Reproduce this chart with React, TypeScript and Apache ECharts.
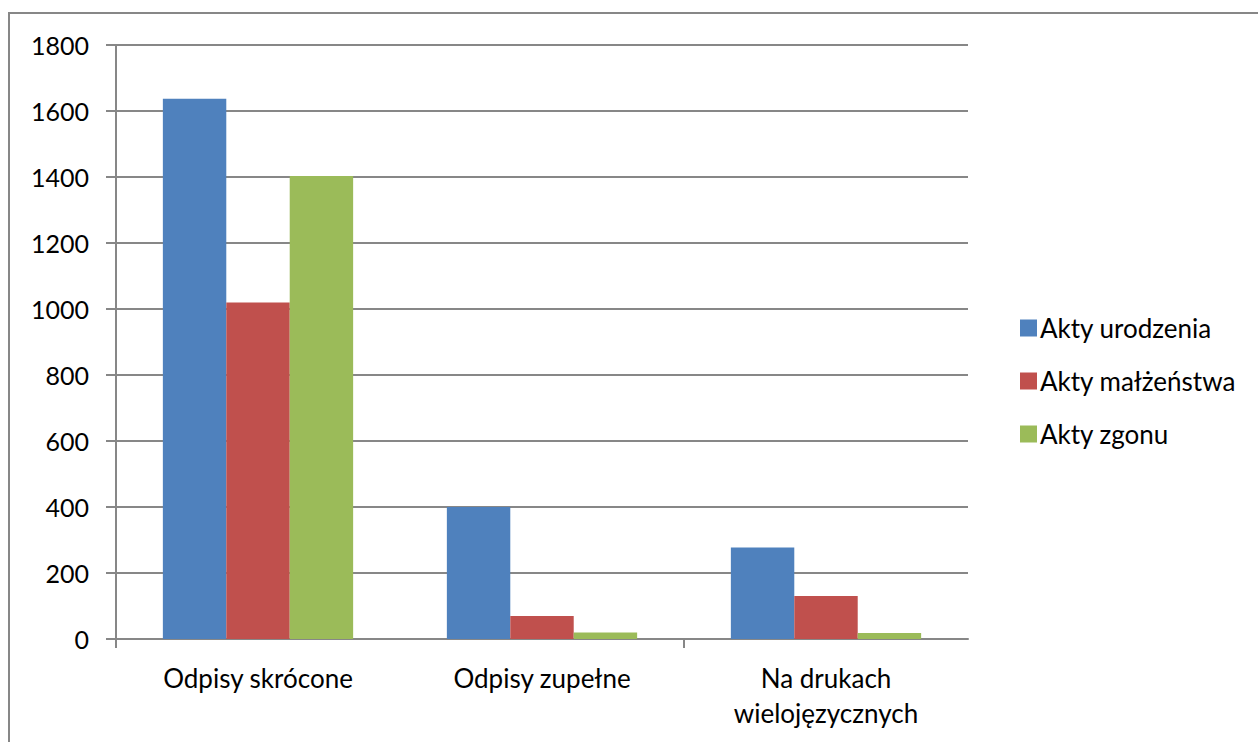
import React, { useEffect, useRef } from "react";
import * as echarts from "echarts";

const categories = ["Odpisy skrócone", "Odpisy zupełne", "Na drukach\nwielojęzycznych"];
const seriesNames = ["Akty urodzenia", "Akty małżeństwa", "Akty zgonu"];
const urodzenia = [1637, 400, 277];
const malzenstwa = [1020, 70, 130];
const zgonu = [1403, 20, 18];
const colors = ["#4F81BD", "#C0504D", "#9BBB59"];
const yTicks = { min: 0, max: 1800, interval: 200 };
const xTickPositions = [0, 2];

export default function App() {
  const ref = useRef<HTMLDivElement>(null);
  useEffect(() => {
    document.body.style.margin = "0";
    const chart = echarts.init(ref.current!, null, { renderer: "svg" });
    const font = "Lato, 'Open Sans', sans-serif";
    const gray = "#878787";
    const values = [urodzenia, malzenstwa, zgonu];
    chart.setOption({
      animation: false,
      backgroundColor: "#ffffff",
      textStyle: { fontFamily: font },
      graphic: [
        {
          type: "rect",
          shape: { x: 9, y: 13, width: 1260, height: 740 },
          style: { fill: "none", stroke: gray, lineWidth: 2 },
          silent: true,
        },
      ],
      grid: { left: 116, right: 290, top: 45, bottom: 103, containLabel: false },
      legend: {
        orient: "vertical",
        left: 1015,
        top: 310,
        itemWidth: 17,
        itemHeight: 17,
        itemGap: 27,
        icon: "rect",
        textStyle: { fontSize: 26, color: "#000", fontFamily: font, padding: [0, 0, 0, -2] },
        data: seriesNames,
      },
      xAxis: [
        {
          type: "category",
          data: categories,
          axisLine: { lineStyle: { color: gray, width: 2 } },
          axisTick: { show: false },
          axisLabel: {
            fontSize: 26,
            color: "#000",
            fontFamily: font,
            margin: 21,
            lineHeight: 35,
            interval: 0,
          },
        },
        {
          type: "value",
          position: "bottom",
          min: 0,
          max: 3,
          axisLine: { show: false },
          axisLabel: { show: false },
          splitLine: { show: false },
          axisTick: {
            show: true,
            length: 9,
            lineStyle: { color: gray, width: 2 },
            customValues: xTickPositions,
          },
        },
      ],
      yAxis: {
        type: "value",
        min: yTicks.min,
        max: yTicks.max,
        interval: yTicks.interval,
        axisLine: { show: true, lineStyle: { color: gray, width: 2 } },
        axisTick: { show: true, length: 10, lineStyle: { color: gray, width: 2 } },
        splitLine: { show: true, lineStyle: { color: gray, width: 2 } },
        axisLabel: {
          fontSize: 25,
          color: "#000",
          fontFamily: font,
          margin: 27,
          formatter: (v: number) => String(v),
        },
      },
      series: seriesNames.map((name, i) => ({
        name,
        type: "bar",
        xAxisIndex: 0,
        data: values[i],
        barGap: "0%",
        barCategoryGap: "33%",
        itemStyle: { color: colors[i] },
      })),
    });
    return () => chart.dispose();
  }, []);
  return <div ref={ref} style={{ width: 1258, height: 742 }} />;
}
